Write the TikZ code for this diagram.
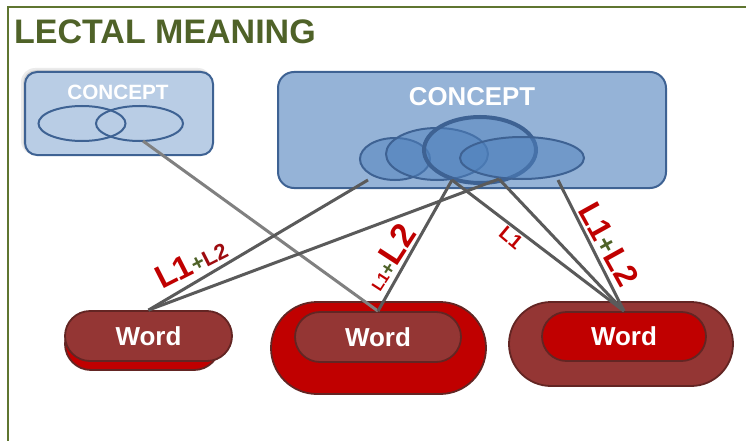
\documentclass[tikz,border=0pt]{standalone}
\usepackage{fontspec}
\setmainfont{Liberation Sans}
\usetikzlibrary{shapes.misc,shapes.geometric,shadows}
\definecolor{olive}{HTML}{4F6228}
\definecolor{frameg}{HTML}{5F7530}
\definecolor{lblue}{HTML}{B9CDE5}
\definecolor{mblue}{HTML}{95B3D7}
\definecolor{dblue}{HTML}{3E6293}
\definecolor{ellb}{HTML}{4F81BD}
\definecolor{wdark}{HTML}{943634}
\definecolor{wred}{HTML}{C00000}
\definecolor{wedge}{HTML}{632523}
\definecolor{dred}{HTML}{9E0B0F}
\definecolor{lgray}{HTML}{5A5A5A}
\definecolor{lgrayb}{HTML}{808080}
\newcommand\myfs[1]{\fontsize{#1}{#1}\selectfont}
\tikzset{
  ln/.style={line width=3pt, draw=lgray},
  cbox/.style={draw=dblue, line width=2pt, rectangle, inner sep=0pt},
  cell/.style={ellipse, draw=dblue, line width=2pt, inner sep=0pt},
  pill/.style={rounded rectangle, draw=wedge, line width=1.8pt, inner sep=0pt},
  wordtxt/.style={text=white, font=\myfs{26}\bfseries},
  ctext/.style={text=white, inner sep=0pt},
  lab/.style={inner sep=0pt, font=\bfseries},
}
\begin{document}
\begin{tikzpicture}[x=1pt,y=-1pt]
\useasboundingbox (0,0) rectangle (746,441);
\fill[white] (0,0) rectangle (746,441);
\draw[frameg, line width=2pt] (8,450) -- (8,7) -- (760,7);
\node[anchor=base west, inner sep=0pt, text=olive, font=\myfs{34}\bfseries] (title) at (14,44) {LECTAL MEANING};

% small concept (soft shadow)
\fill[black, opacity=0.08, rounded corners=14pt] (21,68) rectangle (212,155);
\fill[black, opacity=0.10, rounded corners=13pt] (23,70) rectangle (212,155);
\node[cbox, fill=lblue, rounded corners=12pt, minimum width=188pt, minimum height=83pt] (sbox) at (119,113.5) {};
\node[ctext, font=\myfs{20.7}\bfseries] (stext) at (118,92) {CONCEPT};
\node[cell, minimum width=87pt, minimum height=35pt] (se1) at (82,123.5) {};
\node[cell, minimum width=87pt, minimum height=35pt] (se2) at (139.5,123.5) {};

% big concept
\node[cbox, fill=mblue, rounded corners=16pt, minimum width=388pt, minimum height=116pt] (bbox) at (472,130) {};
\node[ctext, font=\myfs{25.8}\bfseries] (btext) at (472,97) {CONCEPT};
\node[cell, fill=ellb, fill opacity=0.5, minimum width=70pt, minimum height=42pt] (eA) at (395,159) {};
\node[cell, fill=ellb, fill opacity=0.5, minimum width=102pt, minimum height=52pt] (eB) at (437,154) {};
\node[cell, fill=ellb, fill opacity=0.5, line width=4pt, minimum width=112pt, minimum height=66pt] (eC) at (480,150) {};
\node[cell, fill=ellb, fill opacity=0.5, minimum width=124pt, minimum height=42pt] (eD) at (522,158) {};

% words
\node[pill, fill=wred, minimum width=155pt, minimum height=52pt] (w1base) at (142.5,344) {};
\node[pill, fill=wdark, minimum width=167pt, minimum height=50pt, wordtxt] (w1) at (148.5,336) {Word};
\node[pill, fill=wred, minimum width=215pt, minimum height=92pt] (w2out) at (378.5,348) {};
\node[pill, fill=wdark, minimum width=166pt, minimum height=50pt, wordtxt] (w2) at (378,337) {Word};
\node[pill, fill=wdark, minimum width=224pt, minimum height=84pt] (w3out) at (621,344) {};
\node[pill, fill=wred, minimum width=164pt, minimum height=49pt, wordtxt] (w3) at (624,336.5) {Word};

% connector ends
\coordinate (pS) at (143,141);
\coordinate (pA) at (368,180);
\coordinate (pC) at (452,180);
\coordinate (pD) at (499,179);
\coordinate (pE) at (558,180);

\draw[ln, draw=lgrayb] (pS) -- (w2.north);
\draw[ln] (pA) -- (w1.north);
\draw[ln] (pD) -- (w1.north);
\draw[ln] (pC) -- (w2.north);
\draw[ln] (pC) -- (w3.north);
\draw[ln] (pD) -- (w3.north);
\draw[ln] (pE) -- (w3.north);

% labels
\node[lab, anchor=base west, rotate=27] (lab1) at (162,290)
  {{\color{wred}\myfs{32}L1}{\color{olive}\myfs{22}+}{\color{dred}\myfs{22}L2}};
\node[lab, anchor=base west, rotate=57] (lab2) at (380,293)
  {{\color{wred}\myfs{16}L1}{\color{olive}\myfs{20}+}{\color{wred}\myfs{34}L2}};
\node[lab, rotate=-40] (lab3) at (511,238) {{\color{wred}\myfs{20}L1}};
\node[lab, rotate=-61] (lab4) at (609,244)
  {{\color{wred}\myfs{32}L1}{\color{olive}\myfs{26}+}{\color{wred}\myfs{32}L2}};
\end{tikzpicture}
\end{document}
